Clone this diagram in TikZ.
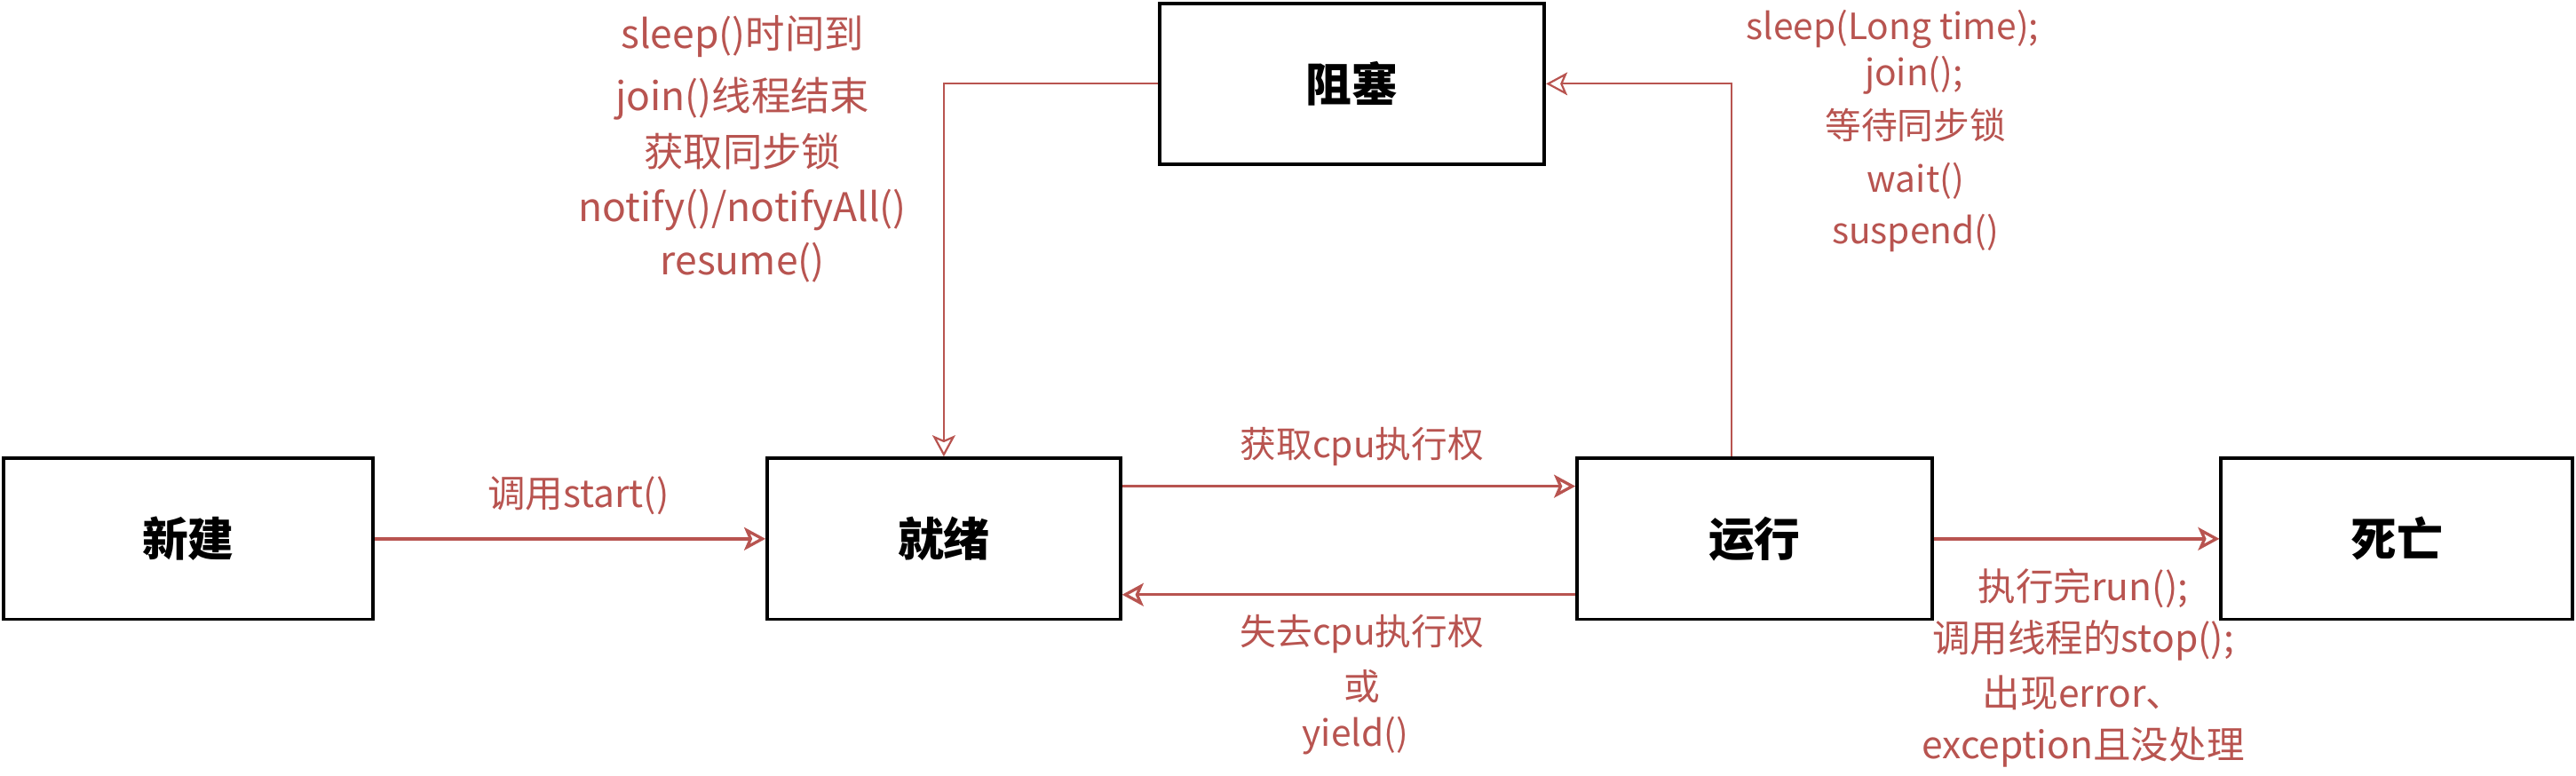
\documentclass[tikz,border=0pt]{standalone}
\usepackage{fontspec}
\setmainfont{Noto Sans CJK SC}
\usetikzlibrary{arrows.meta}
\definecolor{lred}{HTML}{B85450}
\begin{document}
\begin{tikzpicture}[x=1pt,y=-1pt,
  box/.style={draw=black, line width=2.1pt, minimum height=98pt, inner sep=0pt,
    font=\fontsize{28}{32}\selectfont\bfseries},
  arr/.style={draw=lred, line width=1.8pt, -{Stealth[open, length=13pt, width=14pt, inset=3pt]}},
  thinarr/.style={draw=lred, line width=1.2pt, -{Stealth[open, length=13pt, width=14pt, inset=3pt]}},
  lbl/.style={text=lred, font=\fontsize{22}{26}\selectfont, inner sep=0pt},
  lblbig/.style={text=lred, font=\fontsize{24}{28}\selectfont, inner sep=0pt},
  lblmid/.style={text=lred, font=\fontsize{23}{27}\selectfont, inner sep=0pt}]
\useasboundingbox (0,0) rectangle (1568,472);

% states
\node[box, minimum width=225pt] (new)   at (114.5,328) {新建};
\node[box, minimum width=215pt] (ready) at (574.5,328) {就绪};
\node[box, minimum width=216pt] (run)   at (1068,328)  {运行};
\node[box, minimum width=214pt] (dead)  at (1459,328)  {死亡};
\node[box, minimum width=234pt] (block) at (823,51)    {阻塞};

% connectors
\draw[arr] (new.east) -- (ready.west);
\draw[arr] ([yshift=32pt]ready.east) -- ([yshift=32pt]run.west);
\draw[arr] ([yshift=-34pt]run.west) -- ([yshift=-34pt]ready.east);
\draw[arr] (run.east) -- (dead.west);
\draw[thinarr] ([xshift=-14pt]run.north) |- (block.east);
\draw[thinarr] (block.west) -| (ready.north);

% labels
\node[lblmid] (l1) at (352,302) {调用start()};
\node[lbl] (l2) at (829,272) {获取cpu执行权};
\node[lbl] (l3a) at (829,386) {失去cpu执行权};
\node[lbl] (l3b) at (829,418) {或};
\node[lbl] (l3c) at (825,448) {yield()};

\node[lblmid] (l4a) at (1268,358) {执行完run();};
\node[lblmid] (l4b) at (1268,390) {调用线程的stop();};
\node[lblmid] (l4c) at (1268,422) {出现error、};
\node[lblmid] (l4d) at (1268,455) {exception且没处理};

\node[lblbig] (l5a) at (452,22)  {sleep()时间到};
\node[lblbig] (l5b) at (452,60)  {join()线程结束};
\node[lblbig] (l5c) at (452,92)  {获取同步锁};
\node[lblbig] (l5d) at (452,128) {notify()/notifyAll()};
\node[lblbig] (l5e) at (452,160) {resume()};

\node[lbl] (l6a) at (1152,18)  {sleep(Long time);};
\node[lbl] (l6b) at (1165,46)  {join();};
\node[lbl] (l6c) at (1166,76)  {等待同步锁};
\node[lbl] (l6d) at (1166,110) {wait()};
\node[lbl] (l6e) at (1166,142) {suspend()};
\end{tikzpicture}
\end{document}
